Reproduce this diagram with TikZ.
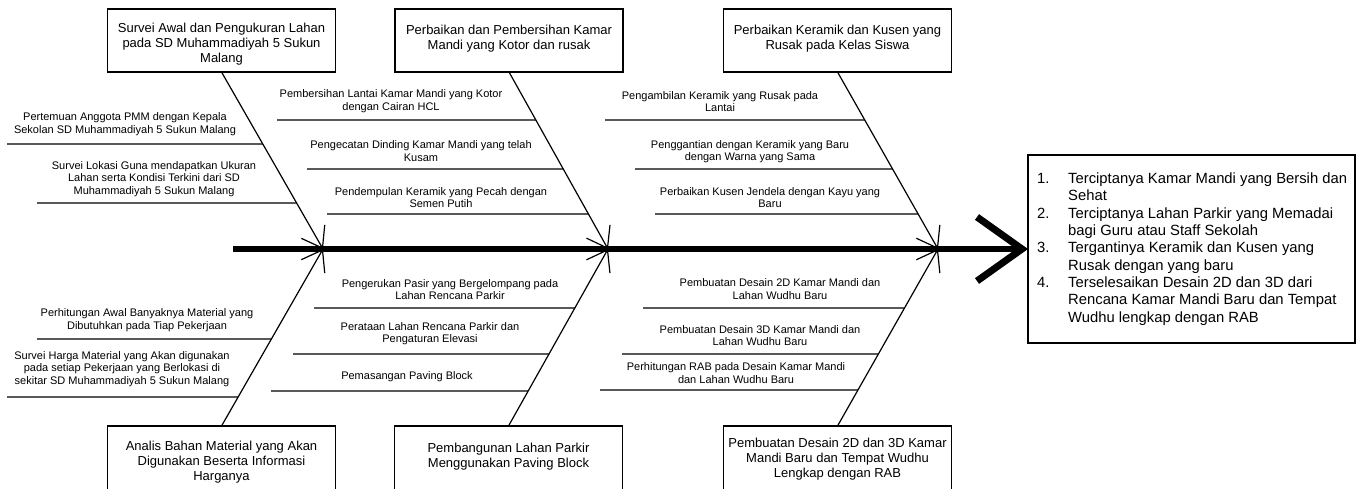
\documentclass[tikz,border=0pt]{standalone}
\usepackage{fontspec}
\setmainfont{Liberation Sans}
\usetikzlibrary{arrows.meta,calc}
\tikzset{
  causebox/.style={draw, line width=1.2pt, minimum width=228pt, minimum height=63pt, inner sep=0pt, outer sep=0pt},
  lowbox/.style={causebox, minimum height=80pt},
  causetxt/.style={align=center, font=\fontsize{13}{15}\selectfont, inner sep=0pt},
  subtxt/.style={align=center, font=\fontsize{11}{12.6}\selectfont, inner sep=0pt},
  restxt/.style={align=left, font=\fontsize{14.8}{17.3}\selectfont, inner sep=0pt},
  resbox/.style={draw, line width=1.2pt, minimum width=327pt, minimum height=188pt, inner sep=0pt, outer sep=0pt},
  bone/.style={line width=1.2pt, -{Straight Barb[length=19pt,width=27pt]}},
  subline/.style={line width=1.2pt},
  spine/.style={line width=6pt},
  chevron/.style={line width=7pt, miter limit=10},
}
\newcommand\fishsub[3]{\draw[subline] (#1) -- (intersection cs: first line={(#2)--(#3)}, second line={(#1)--(#1-|#3)});}
\begin{document}
\begin{tikzpicture}[x=1pt,y=-1pt]
\useasboundingbox (0,0) rectangle (1364,488);
\clip (0,0) rectangle (1364,488);

% spine
\coordinate (spL) at (233,249);
\coordinate (spR) at (1020,249);
\draw[spine] (spL) -- (spR);
\coordinate (hd) at (1022,249);
\coordinate (hu) at (977,217);
\coordinate (hl) at (977,281);
\draw[chevron] (hu) -- (hd) -- (hl);

% junctions
\coordinate (j1) at (323,249);
\coordinate (j2) at (608,249);
\coordinate (j3) at (938,249);

% top cause boxes
\node[causebox] (k1) at (221.5,40.5) {};
\node[causebox] (k2) at (509,40.5) {};
\node[causebox] (k3) at (837.5,40.5) {};
\node[causetxt] (k1t) at (221.5,44) {Survei Awal dan Pengukuran Lahan\\pada SD Muhammadiyah 5 Sukun\\Malang};
\node[causetxt] (k2t) at (509,38.5) {Perbaikan dan Pembersihan Kamar\\Mandi yang Kotor dan rusak};
\node[causetxt] (k3t) at (837.5,38.5) {Perbaikan Keramik dan Kusen yang\\Rusak pada Kelas Siswa};

% bottom cause boxes
\node[lowbox] (m1) at (221.5,466) {};
\node[lowbox] (m2) at (508.5,466) {};
\node[lowbox] (m3) at (837.5,466) {};
\node[causetxt] (m1t) at (221.5,462) {Analis Bahan Material yang Akan\\Digunakan Beserta Informasi\\Harganya};
\node[causetxt] (m2t) at (508.5,457) {Pembangunan Lahan Parkir\\Menggunakan Paving Block};
\node[causetxt] (m3t) at (837.5,459) {Pembuatan Desain 2D dan 3D Kamar\\Mandi Baru dan Tempat Wudhu\\Lengkap dengan RAB};

% bones
\draw[bone] (k1.south) -- (j1);
\draw[bone] (k2.south) -- (j2);
\draw[bone] (k3.south) -- (j3);
\draw[bone] (m1.north) -- (j1);
\draw[bone] (m2.north) -- (j2);
\draw[bone] (m3.north) -- (j3);

% sub-causes, bone 1
\node[subtxt] (a1) at (125,124) {Pertemuan Anggota PMM dengan Kepala\\Sekolan SD Muhammadiyah 5 Sukun Malang};
\coordinate (a1l) at (7,144);
\fishsub{a1l}{k1.south}{j1}
\node[subtxt] (a2) at (154,179) {Survei Lokasi Guna mendapatkan Ukuran\\Lahan serta Kondisi Terkini dari SD\\Muhammadiyah 5 Sukun Malang};
\coordinate (a2l) at (37,203);
\fishsub{a2l}{k1.south}{j1}

% bone 2
\node[subtxt] (b1) at (391,101) {Pembersihan Lantai Kamar Mandi yang Kotor\\dengan Cairan HCL};
\coordinate (b1l) at (277,120);
\fishsub{b1l}{k2.south}{j2}
\node[subtxt] (b2) at (421,151) {Pengecatan Dinding Kamar Mandi yang telah\\Kusam};
\coordinate (b2l) at (307,169);
\fishsub{b2l}{k2.south}{j2}
\node[subtxt] (b3) at (441,197.5) {Pendempulan Keramik yang Pecah dengan\\Semen Putih};
\coordinate (b3l) at (327,214);
\fishsub{b3l}{k2.south}{j2}

% bone 3
\node[subtxt] (c1) at (720,101.5) {Pengambilan Keramik yang Rusak pada\\Lantai};
\coordinate (c1l) at (605,120);
\fishsub{c1l}{k3.south}{j3}
\node[subtxt] (c2) at (750,151.5) {Penggantian dengan Keramik yang Baru\\dengan Warna yang Sama};
\coordinate (c2l) at (635,169);
\fishsub{c2l}{k3.south}{j3}
\node[subtxt] (c3) at (770,197.5) {Perbaikan Kusen Jendela dengan Kayu yang\\Baru};
\coordinate (c3l) at (655,214);
\fishsub{c3l}{k3.south}{j3}

% bone 4
\node[subtxt] (d1) at (147,320) {Perhitungan Awal Banyaknya Material yang\\Dibutuhkan pada Tiap Pekerjaan};
\coordinate (d1l) at (37,339);
\fishsub{d1l}{m1.north}{j1}
\node[subtxt] (d2) at (122,369) {Survei Harga Material yang Akan digunakan\\pada setiap Pekerjaan yang Berlokasi di\\sekitar SD Muhammadiyah 5 Sukun Malang};
\coordinate (d2l) at (7,397);
\fishsub{d2l}{m1.north}{j1}

% bone 5
\node[subtxt] (e1) at (450,289.5) {Pengerukan Pasir yang Bergelompang pada\\Lahan Rencana Parkir};
\coordinate (e1l) at (314,308);
\fishsub{e1l}{m2.north}{j2}
\node[subtxt] (e2) at (430,333.5) {Perataan Lahan Rencana Parkir dan\\Pengaturan Elevasi};
\coordinate (e2l) at (293,354);
\fishsub{e2l}{m2.north}{j2}
\node[subtxt] (e3) at (407,377) {Pemasangan Paving Block};
\coordinate (e3l) at (271,391);
\fishsub{e3l}{m2.north}{j2}

% bone 6
\node[subtxt] (f1) at (780,289) {Pembuatan Desain 2D Kamar Mandi dan\\Lahan Wudhu Baru};
\coordinate (f1l) at (643,308);
\fishsub{f1l}{m3.north}{j3}
\node[subtxt] (f2) at (760,335.5) {Pembuatan Desain 3D Kamar Mandi dan\\Lahan Wudhu Baru};
\coordinate (f2l) at (622,354);
\fishsub{f2l}{m3.north}{j3}
\node[subtxt] (f3) at (736,373) {Perhitungan RAB pada Desain Kamar Mandi\\dan Lahan Wudhu Baru};
\coordinate (f3l) at (600,390);
\fishsub{f3l}{m3.north}{j3}

% result
\node[resbox] (res) at (1191.5,249) {};
\node[restxt, anchor=west] (rest) at (1037,249) {\makebox[31pt][l]{1.}Terciptanya Kamar Mandi yang Bersih dan\\\hspace*{31pt}Sehat\\\makebox[31pt][l]{2.}Terciptanya Lahan Parkir yang Memadai\\\hspace*{31pt}bagi Guru atau Staff Sekolah\\\makebox[31pt][l]{3.}Tergantinya Keramik dan Kusen yang\\\hspace*{31pt}Rusak dengan yang baru\\\makebox[31pt][l]{4.}Terselesaikan Desain 2D dan 3D dari\\\hspace*{31pt}Rencana Kamar Mandi Baru dan Tempat\\\hspace*{31pt}Wudhu lengkap dengan RAB};
\end{tikzpicture}
\end{document}
